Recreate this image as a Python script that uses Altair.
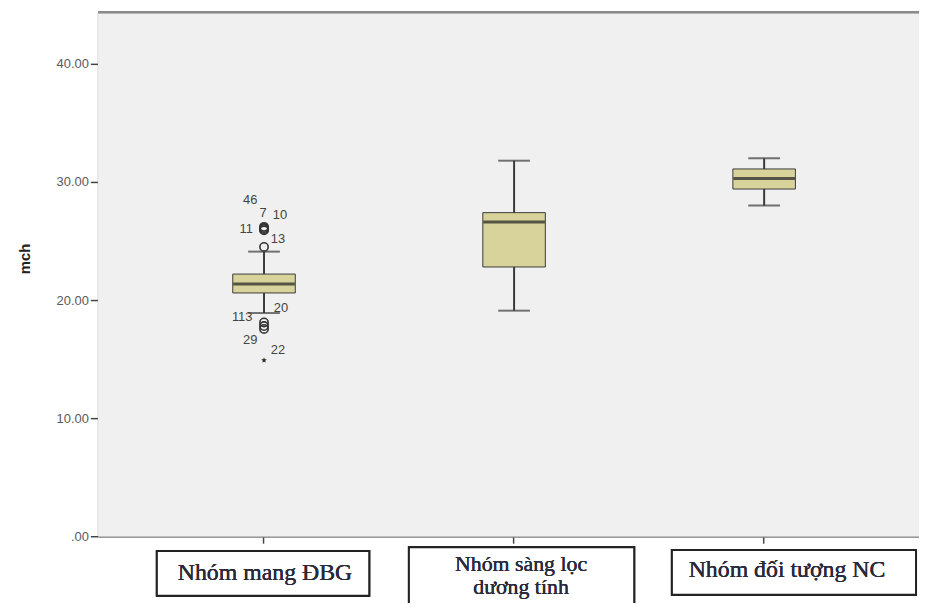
import altair as alt
import pandas as pd

# ---- data ----
groups = ["Nhóm mang ĐBG", "Nhóm sàng lọc dương tính", "Nhóm đối tượng NC"]
whisker_low = [18.9, 19.1, 28.0]
q1 = [20.6, 22.8, 29.4]
median = [21.35, 26.6, 30.3]
q3 = [22.2, 27.4, 31.1]
whisker_high = [24.1, 31.8, 32.0]

outlier_values = [26.2, 26.1, 26.0, 25.9, 24.5, 18.1, 17.8, 17.55]
extreme_values = [14.9]

case_labels = ["46", "7", "10", "11", "13", "20", "113", "29", "22"]
case_label_values = [28.5, 27.4, 27.2, 26.0, 25.2, 19.3, 18.6, 16.6, 15.8]
case_label_dx = [-14, -1, 16, -18, 14, 17, -22, -14, 14]

y_ticks = [0, 10, 20, 30, 40]

# ---- tables ----
box_df = pd.DataFrame({
    "grp": groups, "lo": whisker_low, "q1": q1, "med": median, "q3": q3, "hi": whisker_high,
})
out_df = pd.DataFrame({"grp": [groups[0]] * len(outlier_values), "v": outlier_values})
ext_df = pd.DataFrame({"grp": [groups[0]] * len(extreme_values), "v": extreme_values})

W, H = 827, 528
x_scale = alt.Scale(type="band", domain=groups, paddingInner=0, paddingOuter=0.141, align=0.577)
y_scale = alt.Scale(domain=[0, 44.37], nice=False, zero=False)

X_axis = alt.Axis(labels=False, title=None, domainColor="#7a7a7a", domainWidth=2,
                  tickColor="#444444", tickSize=7, tickWidth=1.5, grid=False)
X = alt.X("grp:N", scale=x_scale, axis=X_axis, sort=groups)
Y_axis = alt.Axis(
    values=y_ticks,
    labelExpr="datum.value == 0 ? '.00' : format(datum.value, '.2f')",
    grid=False, tickSize=8, tickWidth=1.5, tickColor="#444444",
    domainColor="#7a7a7a", domainWidth=2,
    labelFont="Liberation Sans", labelFontSize=13, labelColor="#5a5a5a", labelPadding=2,
    title="mch", titleFont="Liberation Sans", titleFontSize=15, titleFontWeight="bold",
    titleColor="#222222", titleAngle=270, titleX=-74, titleY=248,
    titleAlign="center", titleBaseline="middle",
)


def Yq(field):
    return alt.Y(field, scale=y_scale, axis=Y_axis)


base = alt.Chart(box_df)

# plot-area background
plot_bg = base.mark_rect(fill="#f0f0f0", stroke=None).encode(
    x=alt.value(0), x2=alt.value(W), y=alt.value(0), y2=alt.value(H))

whisker = base.mark_rule(color="#3a3a3a", strokeWidth=2).encode(
    x=X, y=Yq("lo:Q"), y2="hi:Q")
caps_lo = base.mark_tick(color="#3a3a3a", size=32, thickness=2).encode(x=X, y=Yq("lo:Q"))
caps_hi = base.mark_tick(color="#3a3a3a", size=32, thickness=2).encode(x=X, y=Yq("hi:Q"))
box = base.mark_bar(size=63, fill="#d8d39a", stroke="#3a3a3a", strokeWidth=1).encode(
    x=X, y=Yq("q1:Q"), y2="q3:Q")
med = base.mark_tick(color="#1e1e1e", size=62, thickness=3).encode(x=X, y=Yq("med:Q"))

outliers = alt.Chart(out_df).mark_point(
    shape="circle", filled=False, size=70, stroke="#333333", strokeWidth=1.6, opacity=1
).encode(x=X, y=Yq("v:Q"))

star_path = ("M0,-1L0.24,-0.33L0.95,-0.31L0.39,0.13L0.59,0.81L0,0.41L-0.59,0.81"
             "L-0.39,0.13L-0.95,-0.31L-0.24,-0.33Z")
extremes = alt.Chart(ext_df).mark_point(
    shape=star_path, filled=True, size=35, color="#222222", opacity=1
).encode(x=X, y=Yq("v:Q"))

label_layers = []
for txt, val, dx in zip(case_labels, case_label_values, case_label_dx):
    d = pd.DataFrame({"grp": [groups[0]], "v": [val], "t": [txt]})
    label_layers.append(
        alt.Chart(d).mark_text(dx=dx, font="Liberation Sans", fontSize=13, color="#444444",
                               align="center", baseline="middle").encode(
            x=X, y=Yq("v:Q"), text="t:N")
    )

# top frame line of the plot area
frame_top = base.mark_rule(color="#8a8a8a", strokeWidth=2).encode(
    x=alt.value(0), x2=alt.value(W), y=alt.value(0))

# category text boxes placed below the axis
box_specs = [
    (59, 273, 543, 588),
    (313, 540, 539, 640),
    (578, 824, 542, 587),
]
label_boxes = []
for (x1, x2, y1, y2) in box_specs:
    label_boxes.append(
        base.mark_rect(fill="white", stroke="#222222", strokeWidth=2).encode(
            x=alt.value(x1), x2=alt.value(x2), y=alt.value(y1), y2=alt.value(y2))
    )
box_texts = [
    ("Nhóm mang ĐBG", 168, 565, 24),
    ("Nhóm sàng lọc", 426, 556, 22),
    ("dương  tính", 426, 579, 22),
    ("Nhóm đối tượng NC", 694, 562, 24),
]
text_layers = []
for (t, tx, ty, fs) in box_texts:
    text_layers.append(
        base.mark_text(text=t, font="Liberation Serif", fontSize=fs,
                       color="#2a2a3a", align="center", baseline="middle").encode(
            x=alt.value(tx), y=alt.value(ty))
    )

chart = alt.layer(
    plot_bg, frame_top, whisker, caps_lo, caps_hi, box, med, outliers, extremes,
    *label_layers, *label_boxes, *text_layers
).properties(
    width=W, height=H,
    autosize=alt.AutoSizeParams(type="none"),
    padding={"left": 91, "top": 2, "right": 0, "bottom": 65},
).configure_view(
    fill="#f0f0f0", strokeWidth=0
).configure(background="white")

chart.save("out.html", embed_options={"renderer": "svg", "actions": False})
